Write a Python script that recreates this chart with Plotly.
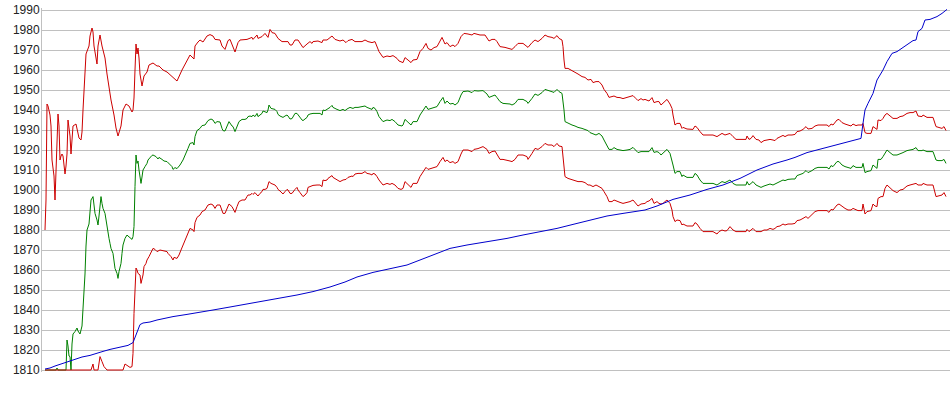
import plotly.graph_objects as go

# session index (one step per sample position)
upper_t = [0,1,2,3,5,6,7,9,10,11,
 12,13,14,15,16,17,18,20,21,22,
 23,24,25,26,27,28,31,32,34,36,
 37,38,39,40,41,44,45,47,48,49,
 50,52,53,55,57,60,62,65,66,69,
 71,73,76,78,81,84,87,88,89,90,
 91,92,93,94,95,97,99,102,104,108,
 112,114,118,122,126,130,132,137,140,144,
 145,149,150,153,155,158,162,165,168,170,
 175,177,180,183,185,190,193,195,202,207,
 208,212,213,217,220,223,225,227,230,233,
 237,243,245,247,250,253,257,258,262,265,
 267,268,273,277,278,282,287,290,295,298,
 301,303,307,310,317,320,323,327,330,332,
 334,338,342,345,348,352,354,358,360,363,
 366,368,372,375,378,381,383,386,389,392,
 395,397,400,402,405,408,410,413,416,419,
 423,427,429,432,435,440,442,444,447,450,
 452,455,460,463,467,470,473,478,482,483,
 487,490,493,497,500,503,507,509,512,514,
 517,518,519,520,523,527,530,533,537,540,
 543,546,548,551,554,557,559,562,564,567,
 569,572,575,578,582,585,588,591,593,596,
 598,600,602,604,607,609,612,614,616,618,
 620,622,625,627,628,630,632,635,637,638,
 642,645,648,650,652,655,658,662,665,668,
 672,674,677,680,682,685,688,691,695,698,
 701,702,704,706,708,711,714,716,719,722,
 725,728,730,732,735,738,740,743,747,750,
 752,755,758,761,763,767,770,773,778,782,
 784,786,788,792,794,797,800,803,806,808,
 811,813,817,818,820,822,826,828,830,832,
 833,836,838,840,842,845,848,852,855,858,
 862,865,868,871,873,877,878,882,885,888,
 891,893,897,899,901]
upper_v = [1880,1895,1943,1942,1937.5,1932,1915,1907,1895,1908,
 1922,1938,1932,1915,1917,1918,1917,1908,1912,1918,
 1935,1932,1927,1918,1928,1932,1933,1931,1926,1925,
 1929,1940,1950,1962,1968,1972,1977,1981,1979,1972,
 1968,1963,1972,1977.5,1972,1966,1958,1947,1945,1937.5,
 1931,1927,1932,1940,1943,1942,1939,1940,1946,1960,
 1973,1968,1971,1966,1958,1952,1957,1959,1962.5,1963.5,
 1962,1962,1960,1959,1957,1955,1954.5,1960,1963,1967,
 1967.5,1965.5,1972,1974,1975,1974,1977,1977.7,1977,1975.3,
 1975,1972,1970.3,1974.7,1975.3,1969,1973.7,1975,1975.3,1976.3,
 1975.3,1977.5,1975.8,1976.7,1978.3,1976.3,1980.3,1978.7,1978.3,1975.8,
 1974.2,1974.2,1972.5,1972.5,1975,1975,1971.7,1971.2,1973,1974.2,
 1973.3,1974.2,1974.5,1973.7,1975,1975,1977,1975.3,1974.5,1975,
 1973.7,1974.7,1975.3,1974.2,1974.2,1975,1974.2,1973.7,1974.2,1971.7,
 1969.2,1966.3,1967,1966.7,1967.2,1965.8,1964.5,1963.7,1966.2,1965,
 1963.7,1965,1965.3,1969.2,1970.8,1973.3,1970.8,1970,1971.2,1971.7,
 1974.2,1976.3,1973,1973.7,1971.7,1972.5,1971.7,1973.3,1976.7,1978.3,
 1978,1977.5,1978.3,1977.8,1977.5,1977.5,1975.8,1974.5,1975.3,1975.3,
 1974.2,1971.7,1971.3,1970.8,1970.3,1971.7,1973.3,1973.3,1972,1971.3,
 1973.7,1975,1974.2,1975.8,1977.5,1976.7,1976.3,1975.8,1977.2,1975.8,
 1975,1971.7,1965,1960.8,1960.8,1959.7,1959.2,1958,1956.7,1956.3,
 1955,1955.3,1953.7,1954.2,1954.2,1952.5,1950.3,1948.3,1946.3,1946.7,
 1947,1946.3,1946.2,1945.7,1946.3,1946.7,1947.2,1945.7,1944.7,1945.7,
 1945,1945.3,1944.7,1944.5,1946.2,1943.7,1944.2,1944.2,1942.5,1943.3,
 1944.2,1945.3,1943,1940.8,1937.5,1932.5,1933.3,1933.3,1930.8,1931.3,
 1930.5,1930.3,1930.3,1932,1931.3,1929.2,1927.5,1927.5,1927.5,1927.5,
 1926.7,1927.5,1928.3,1927.5,1927.8,1928.3,1926.7,1925.3,1925.3,1925.3,
 1925.3,1927,1925.3,1925.8,1927.2,1925.3,1925,1923.7,1924.7,1925,
 1925.3,1925,1924.7,1925.8,1926.7,1927.3,1926.7,1927.5,1927.5,1927.8,
 1929.2,1929.5,1930.3,1931.7,1930.5,1930.8,1932,1932.5,1932.5,1932.5,
 1931.7,1933,1932.5,1935,1935.3,1933.7,1933,1932.5,1932,1933,
 1932.2,1932.5,1932.5,1933.3,1928.7,1928.3,1928.3,1931.7,1930.8,1930.3,
 1935,1934.7,1935.8,1937.5,1938.3,1937,1935.8,1935.8,1936.7,1937,
 1938.3,1938.7,1938.7,1939.5,1937,1936.7,1937.5,1936.3,1936.3,1936.3,
 1931.7,1931.3,1930.8,1931.7,1929.7]

middle_t = [0,11,12,13,21,22,23,24,25,26,
 27,28,30,32,33,35,37,38,39,40,
 41,42,44,45,46,48,49,50,52,53,
 54,55,56,57,58,60,61,62,64,65,
 66,68,69,70,72,73,74,76,77,78,
 80,82,83,85,87,88,89,90,91,92,
 93,94,95,96,97,98,100,102,103,105,
 107,108,111,113,114,117,119,122,124,127,
 128,130,132,135,138,140,142,143,145,148,
 149,150,152,155,157,160,163,166,168,170,
 172,175,177,178,180,182,184,187,188,190,
 192,194,197,200,202,203,205,207,208,210,
 212,213,215,217,218,220,222,223,224,226,
 228,230,232,233,235,237,238,240,242,243,
 245,247,248,250,252,253,255,257,258,260,
 262,263,265,268,272,275,277,278,280,282,
 283,285,287,288,292,295,298,300,302,305,
 308,310,313,317,320,322,325,327,328,330,
 332,334,338,342,345,347,350,353,357,358,
 360,363,366,368,372,375,378,381,383,387,
 390,392,395,398,400,402,405,408,410,413,
 416,418,423,427,429,433,438,442,444,447,
 450,452,455,458,462,465,467,470,473,478,
 482,483,487,490,493,497,500,503,507,509,
 512,514,517,518,519,520,523,527,530,533,
 537,540,543,545,548,551,554,557,559,562,
 564,567,569,572,575,578,582,585,588,591,
 593,596,600,602,604,607,609,612,614,616,
 618,620,622,625,627,628,630,632,635,637,
 638,642,645,648,650,652,655,658,662,665,
 668,672,674,677,680,682,685,688,691,695,
 698,701,702,704,706,708,711,714,716,719,
 722,725,728,730,732,735,738,740,743,747,
 750,752,755,758,761,763,767,770,773,778,
 782,784,786,788,792,794,797,800,803,806,
 808,811,813,817,818,820,822,826,828,830,
 832,833,836,838,840,842,845,848,852,855,
 858,862,865,868,871,873,877,878,882,885,
 888,891,893,897,899,901]
middle_v = [1810,1810,1811,1810,1810,1825,1822,1817,1816.7,1810,
 1823,1828,1829.2,1831,1829.5,1828,1832,1840,1848,1858,
 1872,1880,1883,1889,1895,1896.7,1893,1888.3,1885,1882.5,
 1887,1893.3,1896.7,1893.3,1890.8,1888.3,1885,1880,1875.8,1873.3,
 1870.8,1868.3,1864.2,1860.8,1858.3,1855.8,1859.2,1863.3,1868.3,1872.5,
 1875.8,1877.5,1877,1876.2,1875.3,1876.7,1881.7,1901.7,1917.5,1913.3,
 1914.5,1910,1905.8,1903.3,1906.5,1910,1911.7,1913.3,1915,1916.3,
 1917.3,1917.5,1916.7,1915.5,1916.3,1915.3,1914.5,1914.2,1913.3,1911.7,
 1910.3,1911.2,1910.7,1912.5,1915,1917,1919.2,1920.8,1923.3,1923.7,
 1922.5,1926.7,1929.7,1930.8,1932.2,1932.5,1934.7,1935.5,1935,1933.3,
 1934.2,1934,1930.8,1929.7,1929.5,1931.7,1934.2,1932,1931.7,1929.2,
 1932,1934.2,1935.3,1935.3,1935.8,1936.7,1937,1936.7,1937.5,1936.7,
 1938.3,1936.7,1937.5,1938.3,1939.5,1939.2,1938.7,1940,1942.5,1940.8,
 1940.5,1940.3,1939.2,1937.8,1937,1936.7,1936.3,1937,1937.5,1937,
 1935.5,1935.7,1936.7,1938.3,1938.3,1937.5,1936.3,1935,1934.7,1935.3,
 1936.3,1937.5,1938,1938.3,1938.3,1938.3,1937.5,1940,1939.7,1940.3,
 1940.8,1941.3,1942.3,1941.3,1940.3,1939.7,1940.3,1939.7,1940.5,1941.3,
 1940.8,1941.3,1941.3,1941.7,1942,1941.3,1940.8,1940.3,1941.3,1940.8,
 1939.2,1936.7,1934.2,1935,1934.7,1935.3,1934.2,1932.5,1932,1932.5,
 1935.3,1933.7,1932.5,1934.2,1934.2,1937.5,1940,1942,1940.3,1940.8,
 1941.3,1941.7,1944.2,1946.3,1943.3,1944.5,1943,1943.3,1942.5,1943.7,
 1947.5,1949.2,1949.5,1948.7,1949.7,1949.5,1949.7,1948,1946.3,1947,
 1947.5,1946.2,1944.2,1943.3,1943.3,1943,1942.5,1943.3,1945.3,1945.3,
 1944.2,1943.3,1945.8,1948,1947.3,1948.7,1950.3,1949.7,1949.2,1948.8,
 1950.3,1949.2,1948.3,1945,1940,1934.2,1933.3,1932.5,1932,1931.3,
 1930.8,1930.3,1929.7,1928.7,1928,1927.5,1928.3,1927,1925,1922.5,
 1920.3,1920.3,1921.2,1920.3,1920,1919.7,1920,1920.3,1921.3,1919.7,
 1918.7,1919.2,1919.2,1919.2,1919.2,1921.2,1918.8,1919.2,1918.7,1917.5,
 1918.3,1919.2,1920.3,1918.3,1915,1912.5,1908.3,1909.2,1909.2,1906.7,
 1907.5,1906.3,1906.3,1906.3,1908.3,1907.5,1905,1903.3,1903.3,1903.3,
 1903.3,1902.5,1903.3,1904.2,1903.7,1904.2,1905,1903.3,1902.5,1902.5,
 1902.5,1902.5,1904.2,1902.5,1903.3,1904.2,1902.5,1902,1901.3,1902,
 1902.5,1903,1902.5,1903,1903.8,1904.5,1905,1904.7,1905.3,1905.5,
 1905.5,1907.2,1907.7,1908.3,1909.7,1908.7,1909.7,1910.8,1911.3,1911.3,
 1911.3,1910.5,1912.2,1911.7,1914.2,1914.2,1912.5,1911.7,1911.2,1910.8,
 1912.2,1911.3,1911.3,1911.3,1913.3,1908.7,1909.2,1909.7,1912.5,1911.7,
 1910.8,1915.3,1915.3,1916.7,1918.7,1920,1918.7,1917.5,1917.5,1918,
 1918.7,1919.7,1920,1920.3,1921.2,1919.7,1919.7,1920,1919.2,1919.2,
 1919.2,1915,1914.7,1914.7,1915.3,1913.3]

lower_t = [0,46,48,49,53,55,57,59,62,78,
 80,82,85,87,88,89,90,91,92,93,
 95,96,98,99,101,102,104,106,108,110,
 112,115,118,122,123,126,128,129,132,134,
 136,138,140,142,144,145,148,149,150,152,
 155,157,160,163,166,168,170,172,175,177,
 178,180,182,184,187,188,190,192,194,197,
 200,202,203,205,207,208,210,212,213,215,
 217,218,220,222,223,224,226,228,230,232,
 233,235,237,238,240,242,243,245,247,248,
 250,252,253,255,257,258,260,262,263,265,
 268,272,275,277,278,280,282,283,285,287,
 288,292,295,298,301,303,307,308,310,313,
 317,320,322,325,327,328,330,332,334,338,
 342,345,347,350,353,356,358,360,363,366,
 368,372,375,378,381,383,387,390,392,395,
 398,400,402,405,408,410,413,416,418,423,
 427,429,433,438,442,444,447,450,452,455,
 458,462,465,467,470,473,478,482,483,487,
 490,493,497,500,503,507,509,512,514,517,
 518,519,520,523,527,530,533,537,540,543,
 545,548,551,554,557,559,562,564,567,569,
 572,575,578,582,585,588,591,593,596,600,
 602,604,607,609,612,614,616,618,620,622,
 625,627,628,630,632,635,637,638,642,645,
 648,650,652,655,658,662,665,668,672,674,
 677,680,682,685,688,691,695,698,701,702,
 704,706,708,711,714,716,719,722,725,728,
 730,732,735,738,740,743,747,750,752,755,
 758,761,763,767,770,773,778,782,784,786,
 788,792,794,797,800,803,806,808,811,813,
 817,818,820,822,826,828,830,832,833,836,
 838,840,842,845,848,852,855,858,862,865,
 868,871,873,877,878,882,885,888,891,893,
 897,899,901]
lower_v = [1810,1810,1813,1810,1810,1816.7,1814.2,1811.7,1810,1810,
 1813,1812.2,1811.3,1811.7,1818.3,1838.3,1853.3,1861,1860,1858.3,
 1857.5,1853.3,1857.5,1861.7,1863.3,1865,1866.7,1869.2,1870.8,1870.3,
 1869.2,1870,1869.7,1869.2,1868.3,1866.7,1865,1866.3,1865.8,1867.5,
 1870,1872.5,1874.2,1876.7,1879.2,1880.8,1880,1879.2,1883.7,1886.3,
 1887.5,1889.2,1890,1892.5,1893,1892.5,1890.8,1892.5,1892.5,1889.2,
 1888.3,1888.3,1890.8,1893,1891.7,1890.8,1888.8,1891.7,1894.2,1895,
 1895,1896.7,1897.5,1897.5,1898.3,1897.8,1898.7,1897.5,1897,1898.3,
 1899.2,1900.3,1900.3,1900.8,1902.5,1904.2,1903.3,1902.8,1902.5,1901.3,
 1900.3,1899.5,1898.7,1898,1899.2,1900.3,1900,1898.3,1898.3,1899.2,
 1900.3,1901.3,1900,1898.7,1897.5,1896.7,1897.5,1898.7,1901.3,1901.7,
 1902.3,1902.5,1902.5,1901.7,1905,1904.7,1905,1905.8,1906.3,1907.2,
 1906.3,1905.3,1904.2,1905,1905.3,1906.3,1907,1906.7,1908,1908.3,
 1908.3,1909.2,1908.3,1908,1907.5,1908.3,1908,1906.7,1905,1902.5,
 1903.3,1902.8,1903.3,1902.5,1900.8,1900.3,1900.8,1904.2,1902.5,1901.3,
 1903.3,1903.3,1906.7,1909.2,1911.3,1910.3,1910.8,1911.3,1911.7,1914.2,
 1916.3,1914.2,1915,1913.7,1914.2,1913.3,1914.2,1918,1920,1920,
 1919.2,1920.3,1920.7,1921.7,1920.3,1918.3,1919.2,1919.5,1917.5,1915.3,
 1915.3,1915,1914.5,1914.2,1915.3,1917.5,1917.5,1916.7,1915.3,1918.3,
 1920.8,1920.3,1921.7,1923.3,1922.5,1922.5,1921.7,1923.3,1922,1921.7,
 1916.7,1910,1906.7,1905.8,1905,1904.7,1904.2,1904.2,1903.7,1902.5,
 1902.5,1901.7,1902.5,1901.7,1900.8,1899.2,1896.7,1894.2,1894.2,1895,
 1894.2,1893.8,1893.3,1893.7,1894.2,1895,1893.3,1892,1893,1893.3,
 1894.2,1894.5,1895.8,1893.3,1894.2,1893.3,1893,1893.3,1894.2,1895,
 1893.3,1890,1886.7,1884.2,1885,1884.7,1882.5,1883,1882,1882,
 1882,1883.7,1883,1880.8,1879.2,1879.2,1879.2,1879.2,1878,1879.2,
 1880,1879.5,1879.7,1881.7,1880,1879.2,1879.2,1879.2,1879.2,1880.3,
 1879.2,1880,1880.8,1879.2,1879.2,1879.2,1880,1880,1880.8,1880.3,
 1880.8,1881.7,1882,1883,1882.5,1883,1883,1883.3,1884.7,1885,
 1885.8,1886.7,1885.8,1887.8,1889.2,1889.7,1889.7,1889.7,1888.8,1890.3,
 1890,1892.5,1893,1891.7,1890.8,1890,1890,1890.8,1890,1889.7,
 1889.7,1893,1888,1889.2,1889.7,1893,1892,1891.7,1895.8,1896.7,
 1896.7,1900.8,1902.5,1901.3,1899.7,1898.7,1900,1900.3,1902,1902.5,
 1902.8,1903.3,1902.5,1902.5,1903.3,1902.5,1902.5,1902.5,1896.7,1897,
 1897.5,1898.7,1896.7]

blue_t = [0,5,10,15,22,28,37,45,52,58,
 65,75,83,88,92,95,98,105,112,118,
 128,142,155,168,185,202,218,235,252,268,
 285,300,312,328,345,362,375,388,405,422,
 435,448,462,478,495,512,528,545,562,578,
 592,600,612,628,645,662,678,695,712,728,
 742,750,762,778,795,808,816,818,820,823,
 828,832,838,842,847,852,860,868,871,873,
 877,880,885,892,897,902]
blue_v = [1810.5,1811,1812,1813,1814,1815,1816.5,1817.3,1818.2,1819.3,
 1820.3,1821.2,1822.3,1823.7,1829,1832.7,1833.5,1834,1835,1835.7,
 1836.7,1837.8,1838.8,1840,1841.5,1843,1844.5,1845.8,1847.5,1849.2,
 1851.5,1854,1856.5,1858.8,1860.5,1862.5,1865,1867.5,1870.8,1872.5,
 1873.5,1874.7,1875.8,1877.5,1879.2,1880.8,1882.8,1885,1887,1888.3,
 1889.5,1890,1892,1895.3,1897.5,1900.3,1902.5,1905.8,1910,1913,
 1915,1916.3,1918.7,1920.8,1923,1925,1925.8,1933.3,1940,1943.3,
 1948.3,1955,1960,1964.2,1968.3,1969.2,1972,1974.7,1975,1979.2,
 1980.8,1985,1985.3,1986.7,1988.3,1990.3]

y_ticks = list(range(1810, 2000, 10))

RED = "#cc0000"
GREEN = "#008000"
BLUE = "#0000cc"

fig = go.Figure()
series = [
    (middle_t, middle_v, GREEN),
    (upper_t, upper_v, RED),
    (lower_t, lower_v, RED),
    (blue_t, blue_v, BLUE),
]
for t, v, c in series:
    fig.add_trace(go.Scatter(x=t, y=v, mode="lines",
                             line=dict(color=c, width=1),
                             showlegend=False, hoverinfo="skip"))

fig.update_layout(
    width=950, height=395,
    margin=dict(l=42, r=0, t=8, b=23, autoexpand=False),
    paper_bgcolor="white", plot_bgcolor="white",
    font=dict(family="Liberation Sans, Arial, sans-serif", size=12, color="#222"),
)
fig.update_xaxes(range=[-3, 905], showgrid=False, showticklabels=False,
                 zeroline=False, showline=False, ticks="", automargin=False)
fig.update_yaxes(range=[1809, 1991], tickvals=y_ticks,
                 ticktext=[str(v) for v in y_ticks],
                 showgrid=True, gridcolor="#c0c0c0", gridwidth=1,
                 zeroline=False, showline=True, linecolor="#c0c0c0", linewidth=1,
                 ticks="", ticklabelstandoff=-1, automargin=False,
                 tickfont=dict(family="Liberation Sans, Arial, sans-serif", size=12, color="#222"))

fig.write_html("out.html",
               config={"displayModeBar": False},
               post_script="document.body.style.margin='0';document.body.style.padding='0';")
